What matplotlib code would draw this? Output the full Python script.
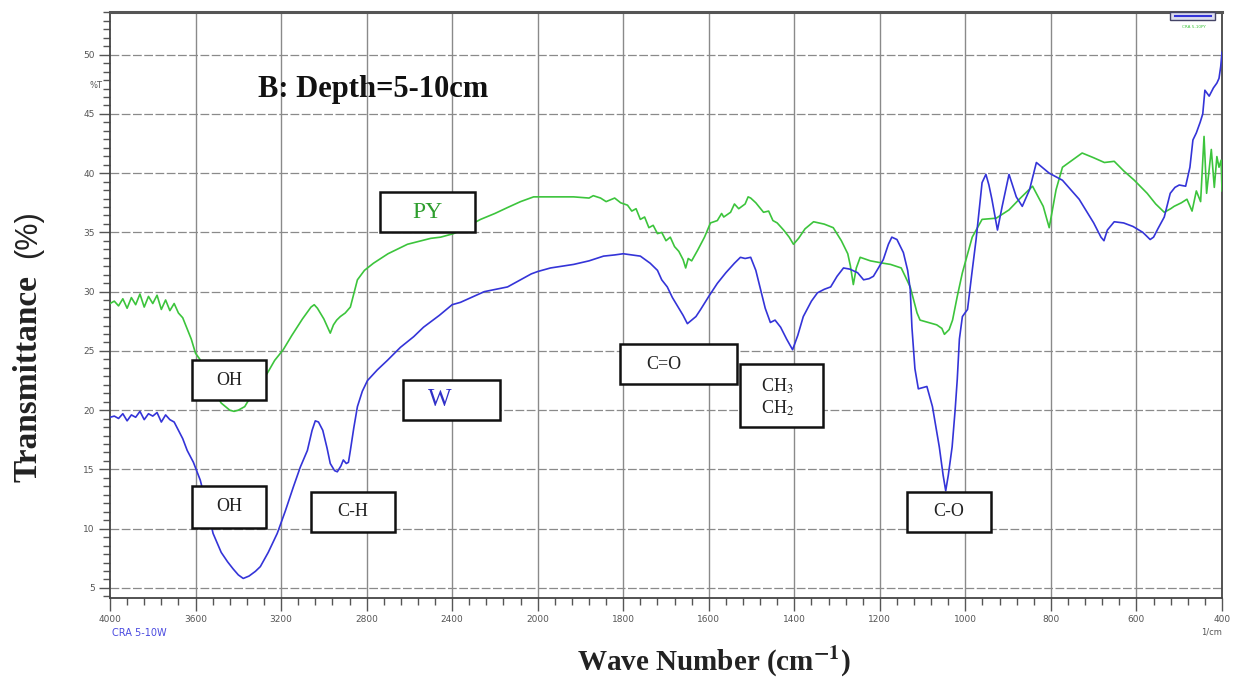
import numpy as np
import matplotlib.pyplot as plt
from matplotlib.patches import Rectangle
from matplotlib.ticker import FixedLocator, AutoMinorLocator

plt.rcParams['mathtext.fontset'] = 'stix'

# PY spectrum (green), wavenumber in cm-1, transmittance in %
py_wn = [4000, 3980, 3960, 3940, 3920, 3900, 3880, 3860, 3840, 3820, 3800, 3780, 3760, 3740,
         3720, 3700, 3680, 3660, 3640, 3620, 3600, 3580, 3560, 3520, 3480, 3440, 3420, 3400,
         3370, 3340, 3300, 3265, 3230, 3190, 3150, 3100, 3060, 3045, 3030, 3000, 2970, 2955,
         2940, 2923, 2900, 2876, 2860, 2843, 2810, 2768, 2700, 2609, 2500, 2454, 2393, 2330,
         2267, 2200, 2141, 2080, 2019, 1960, 1916, 1880, 1870, 1853, 1840, 1820, 1806, 1790,
         1780, 1770, 1760, 1750, 1740, 1730, 1720, 1710, 1700, 1690, 1680, 1670, 1660, 1654,
         1648, 1640, 1626, 1610, 1596, 1580, 1570, 1565, 1549, 1540, 1530, 1515, 1508, 1502,
         1490, 1472, 1460, 1450, 1440, 1425, 1412, 1402, 1390, 1375, 1355, 1330, 1309, 1290,
         1275, 1269, 1262, 1255, 1246, 1222, 1192, 1175, 1150, 1129, 1113, 1106, 1067, 1055,
         1049, 1038, 1030, 1019, 1007, 984, 961, 928, 898, 874, 843, 818, 804, 788, 773, 727,
         700, 675, 652, 630, 605, 575, 555, 535, 520, 512, 495, 482, 470, 460, 450, 442, 436,
         425, 418, 412, 407, 402, 400]
py_t = [29.0, 29.2, 28.8, 29.4, 28.6, 29.5, 28.9, 29.8, 28.7, 29.6, 29.0, 29.7, 28.5, 29.3,
        28.4, 29.0, 28.2, 27.8, 26.9, 26.0, 24.8, 24.3, 23.4, 21.8, 20.6, 20.0, 19.9, 20.0,
        20.3, 21.2, 22.3, 23.1, 24.2, 25.1, 26.3, 27.7, 28.7, 28.9, 28.6, 27.7, 26.5, 27.2,
        27.6, 27.9, 28.2, 28.7, 29.8, 31.0, 31.8, 32.4, 33.2, 34.0, 34.5, 34.6, 34.9, 35.5,
        36.1, 36.6, 37.1, 37.6, 38.0, 38.0, 38.0, 37.9, 38.1, 37.9, 37.6, 37.9, 37.5, 37.3,
        36.8, 37.0, 36.1, 36.3, 35.4, 35.6, 34.9, 35.0, 34.3, 34.6, 33.8, 33.4, 32.7, 32.0,
        32.8, 32.6, 33.5, 34.6, 35.8, 36.0, 36.6, 36.3, 36.7, 37.4, 37.0, 37.4, 38.0, 37.9,
        37.5, 36.7, 36.8, 36.0, 35.8, 35.2, 34.6, 34.0, 34.5, 35.3, 35.9, 35.7, 35.4, 34.3,
        33.2, 32.2, 30.6, 32.0, 32.9, 32.6, 32.4, 32.3, 32.0, 30.4, 28.2, 27.6, 27.2, 26.9,
        26.4, 26.8, 27.6, 29.6, 31.6, 34.6, 36.1, 36.2, 36.9, 37.8, 38.9, 37.2, 35.4, 38.6,
        40.5, 41.7, 41.3, 40.9, 41.0, 40.2, 39.4, 38.3, 37.4, 36.7, 37.0, 37.2, 37.5, 37.8,
        36.8, 38.5, 37.6, 43.1, 38.3, 42.0, 38.8, 41.4, 40.5, 41.1, 38.5]

# W spectrum (blue)
w_wn = [4000, 3980, 3960, 3940, 3920, 3900, 3880, 3860, 3840, 3820, 3800, 3780, 3760, 3740,
        3720, 3700, 3680, 3660, 3639, 3610, 3578, 3550, 3518, 3480, 3450, 3424, 3400, 3377,
        3350, 3320, 3297, 3260, 3218, 3180, 3143, 3110, 3077, 3055, 3040, 3025, 3005, 2985,
        2970, 2950, 2937, 2920, 2909, 2895, 2885, 2876, 2860, 2843, 2820, 2796, 2750, 2703,
        2642, 2580, 2534, 2460, 2400, 2361, 2300, 2250, 2141, 2080, 2030, 2000, 1970, 1916,
        1880, 1846, 1820, 1800, 1780, 1760, 1737, 1720, 1710, 1697, 1685, 1670, 1660, 1650,
        1640, 1630, 1619, 1600, 1580, 1560, 1540, 1526, 1515, 1502, 1490, 1479, 1468, 1456,
        1445, 1432, 1418, 1404, 1392, 1379, 1360, 1346, 1330, 1315, 1300, 1285, 1270, 1252,
        1238, 1225, 1215, 1205, 1192, 1180, 1172, 1160, 1145, 1135, 1129, 1125, 1118, 1110,
        1100, 1090, 1077, 1061, 1052, 1046, 1040, 1031, 1024, 1019, 1014, 1007, 995, 985,
        975, 961, 952, 945, 938, 925, 914, 898, 881, 867, 850, 834, 804, 773, 734, 700, 683,
        676, 668, 652, 630, 608, 585, 568, 560, 550, 535, 521, 510, 500, 485, 475, 468, 460,
        451, 445, 440, 430, 420, 412, 407, 403, 400]
w_t = [19.4, 19.5, 19.3, 19.7, 19.1, 19.6, 19.4, 19.9, 19.2, 19.7, 19.5, 19.8, 19.0, 19.6,
       19.2, 19.0, 18.3, 17.6, 16.6, 15.6, 14.1, 12.1, 9.6, 8.0, 7.2, 6.6, 6.1, 5.8,
       6.0, 6.4, 6.8, 8.0, 9.6, 11.5, 13.5, 15.2, 16.6, 18.3, 19.1, 19.0, 18.3, 16.8,
       15.5, 14.9, 14.8, 15.3, 15.8, 15.5, 15.6, 16.6, 18.5, 20.3, 21.6, 22.5, 23.4, 24.2,
       25.3, 26.2, 27.0, 28.0, 28.9, 29.1, 29.6, 30.0, 30.4, 31.0, 31.5, 31.7, 32.0, 32.3,
       32.6, 33.0, 33.1, 33.2, 33.1, 33.0, 32.4, 31.8, 31.0, 30.4, 29.5, 28.6, 28.0, 27.3,
       27.6, 27.9, 28.5, 29.6, 30.7, 31.6, 32.4, 32.9, 32.8, 32.9, 31.8, 30.2, 28.6, 27.4,
       27.6, 27.0, 26.0, 25.1, 26.3, 27.9, 29.2, 29.9, 30.2, 30.4, 31.3, 32.0, 31.9, 31.6,
       31.0, 31.1, 31.3, 31.9, 32.7, 34.0, 34.6, 34.4, 33.3, 31.8, 30.2, 27.0, 23.5, 21.8,
       21.9, 22.0, 20.3, 16.9, 14.5, 13.2, 14.5, 16.9, 20.0, 22.6, 26.0, 27.9, 28.5, 31.5,
       34.4, 39.2, 39.9, 39.0, 37.8, 35.2, 37.2, 39.9, 38.0, 37.2, 38.6, 40.9, 40.0, 39.4,
       37.8, 35.8, 34.6, 34.3, 35.2, 35.9, 35.8, 35.5, 35.0, 34.4, 34.6, 35.3, 36.3, 38.3,
       38.8, 39.0, 38.9, 40.5, 42.8, 43.4, 44.3, 45.0, 47.0, 46.5, 47.2, 47.6, 48.0, 49.0, 50.2]

x_major = [4000, 3600, 3200, 2800, 2400, 2000, 1800, 1600, 1400, 1200, 1000, 800, 600, 400]
y_major = [5, 10, 15, 20, 25, 30, 35, 40, 45, 50]


def fwd(x):
    x = np.asarray(x, dtype=float)
    return np.where(x >= 2000, 8 + (x - 2000) / 400.0, (x - 400) / 200.0)


def inv(u):
    u = np.asarray(u, dtype=float)
    return np.where(u >= 8, 2000 + (u - 8) * 400.0, 400 + u * 200.0)


green = '#3cc43c'
blue = '#3434d8'
grid_c = '#8a8a8a'
tick_c = '#555555'

fig = plt.figure(figsize=(12.38, 6.81), dpi=100)
ax = fig.add_axes([110 / 1238, 83 / 681, 1112 / 1238, 586 / 681])
ax.set_xscale('function', functions=(fwd, inv))
ax.set_xlim(4000, 400)
ax.set_ylim(4.15, 53.6)

ax.plot(py_wn, py_t, color=green, lw=1.2, zorder=3)
ax.plot(w_wn, w_t, color=blue, lw=1.2, zorder=3)

ax.xaxis.set_major_locator(FixedLocator(x_major))
minors = [v for v in range(4000, 2000, -80)] + [v for v in range(2000, 399, -40)]
ax.xaxis.set_minor_locator(FixedLocator([m for m in minors if m not in x_major]))
ax.set_xticklabels([str(v) for v in x_major])
ax.yaxis.set_major_locator(FixedLocator(y_major))
ax.yaxis.set_minor_locator(AutoMinorLocator(7))

ax.tick_params(which='major', direction='out', length=8, width=1, color=tick_c,
               labelsize=6.5, labelcolor=tick_c, pad=3)
ax.tick_params(which='minor', direction='out', length=5, width=1, color=tick_c)
ax.tick_params(axis='x', which='major', length=9)

for v in x_major[1:-1]:
    ax.axvline(v, color=grid_c, lw=1.0, zorder=1)
for v in y_major:
    ax.axhline(v, color=grid_c, lw=0.9, ls=(0, (7, 2)), zorder=1)

for s in ['left', 'right', 'bottom']:
    ax.spines[s].set_color('#444444')
    ax.spines[s].set_linewidth(1.3)
ax.spines['top'].set_color('#555555')
ax.spines['top'].set_linewidth(2.2)

# label boxes (axes fraction): x0, y0, x1, y1
boxes = [
    (0.2428, 0.6246, 0.3282, 0.6928),   # PY
    (0.0737, 0.3379, 0.1403, 0.4061),   # OH upper
    (0.2635, 0.3038, 0.3507, 0.3720),   # W
    (0.0737, 0.1195, 0.1403, 0.1911),   # OH lower
    (0.1808, 0.1126, 0.2563, 0.1809),   # C-H
    (0.4586, 0.3652, 0.5638, 0.4334),   # C=O
    (0.5665, 0.2918, 0.6412, 0.3993),   # CH3 CH2
    (0.7167, 0.1126, 0.7923, 0.1809),   # C-O
]
for x0, y0, x1, y1 in boxes:
    ax.add_patch(Rectangle((x0, y0), x1 - x0, y1 - y0, transform=ax.transAxes,
                           facecolor='white', edgecolor='#111111', lw=1.8, zorder=5))

serif = 'Liberation Serif'
ax.text(0.2851, 0.6587, 'PY', transform=ax.transAxes, ha='center', va='center',
        family=serif, fontsize=17, color='#2e9e2e', zorder=6)
ax.text(0.2968, 0.3379, 'W', transform=ax.transAxes, ha='center', va='center',
        family=serif, fontsize=18, color='#3030c8', zorder=6)
ax.text(0.1070, 0.3720, 'OH', transform=ax.transAxes, ha='center', va='center',
        family=serif, fontsize=13, color='#222222', zorder=6)
ax.text(0.1070, 0.1553, 'OH', transform=ax.transAxes, ha='center', va='center',
        family=serif, fontsize=13, color='#222222', zorder=6)
ax.text(0.2185, 0.1468, 'C-H', transform=ax.transAxes, ha='center', va='center',
        family=serif, fontsize=13, color='#222222', zorder=6)
ax.text(0.4982, 0.3993, 'C=O', transform=ax.transAxes, ha='center', va='center',
        family=serif, fontsize=13, color='#222222', zorder=6)
ax.text(0.6004, 0.3618, 'CH$_3$', transform=ax.transAxes, ha='center', va='center',
        family=serif, fontsize=13, color='#222222', zorder=6)
ax.text(0.6004, 0.3242, 'CH$_2$', transform=ax.transAxes, ha='center', va='center',
        family=serif, fontsize=13, color='#222222', zorder=6)
ax.text(0.7545, 0.1468, 'C-O', transform=ax.transAxes, ha='center', va='center',
        family=serif, fontsize=13, color='#222222', zorder=6)

ax.text(0.1331, 0.8669, 'B: Depth=5-10cm', transform=ax.transAxes, ha='left', va='center',
        family=serif, fontsize=22, fontweight='bold', color='#111111', zorder=6)

# small instrument legend in the top right corner
ax.add_patch(Rectangle((0.953, 0.987), 0.041, 0.013, transform=ax.transAxes,
                       facecolor='#dde', edgecolor='#444466', lw=1.0, zorder=6, clip_on=False))
ax.plot([0.958, 0.99], [0.9935, 0.9935], transform=ax.transAxes, color=blue, lw=1.5, zorder=7)
ax.text(0.975, 0.975, 'CRA 5-10PY', transform=ax.transAxes, ha='center', va='center',
        fontsize=3, color=green)

fig.text(102 / 1238, 1 - 85 / 681, '%T', ha='right', va='center', fontsize=6, color=tick_c)
fig.text(112 / 1238, 1 - 633 / 681, 'CRA 5-10W', ha='left', va='center', fontsize=7,
         color='#4a4ae0')
fig.text(1222 / 1238, 1 - 632 / 681, '1/cm', ha='right', va='center', fontsize=6, color=tick_c)

fig.text(28 / 1238, 1 - 378 / 681, 'Transmittance', rotation=90, ha='center', va='center',
         family=serif, fontsize=24, fontweight='bold', color='#222222')
fig.text(28 / 1238, 1 - 234 / 681, '(%)', rotation=90, ha='center', va='center',
         family='Liberation Sans', fontsize=22, color='#222222')
fig.text(714 / 1238, 1 - 662 / 681, 'Wave Number (cm$^{\\mathbf{-1}}$)', ha='center', va='center',
         family=serif, fontsize=21, fontweight='bold', color='#222222')

fig.savefig('out.png', dpi=100)
